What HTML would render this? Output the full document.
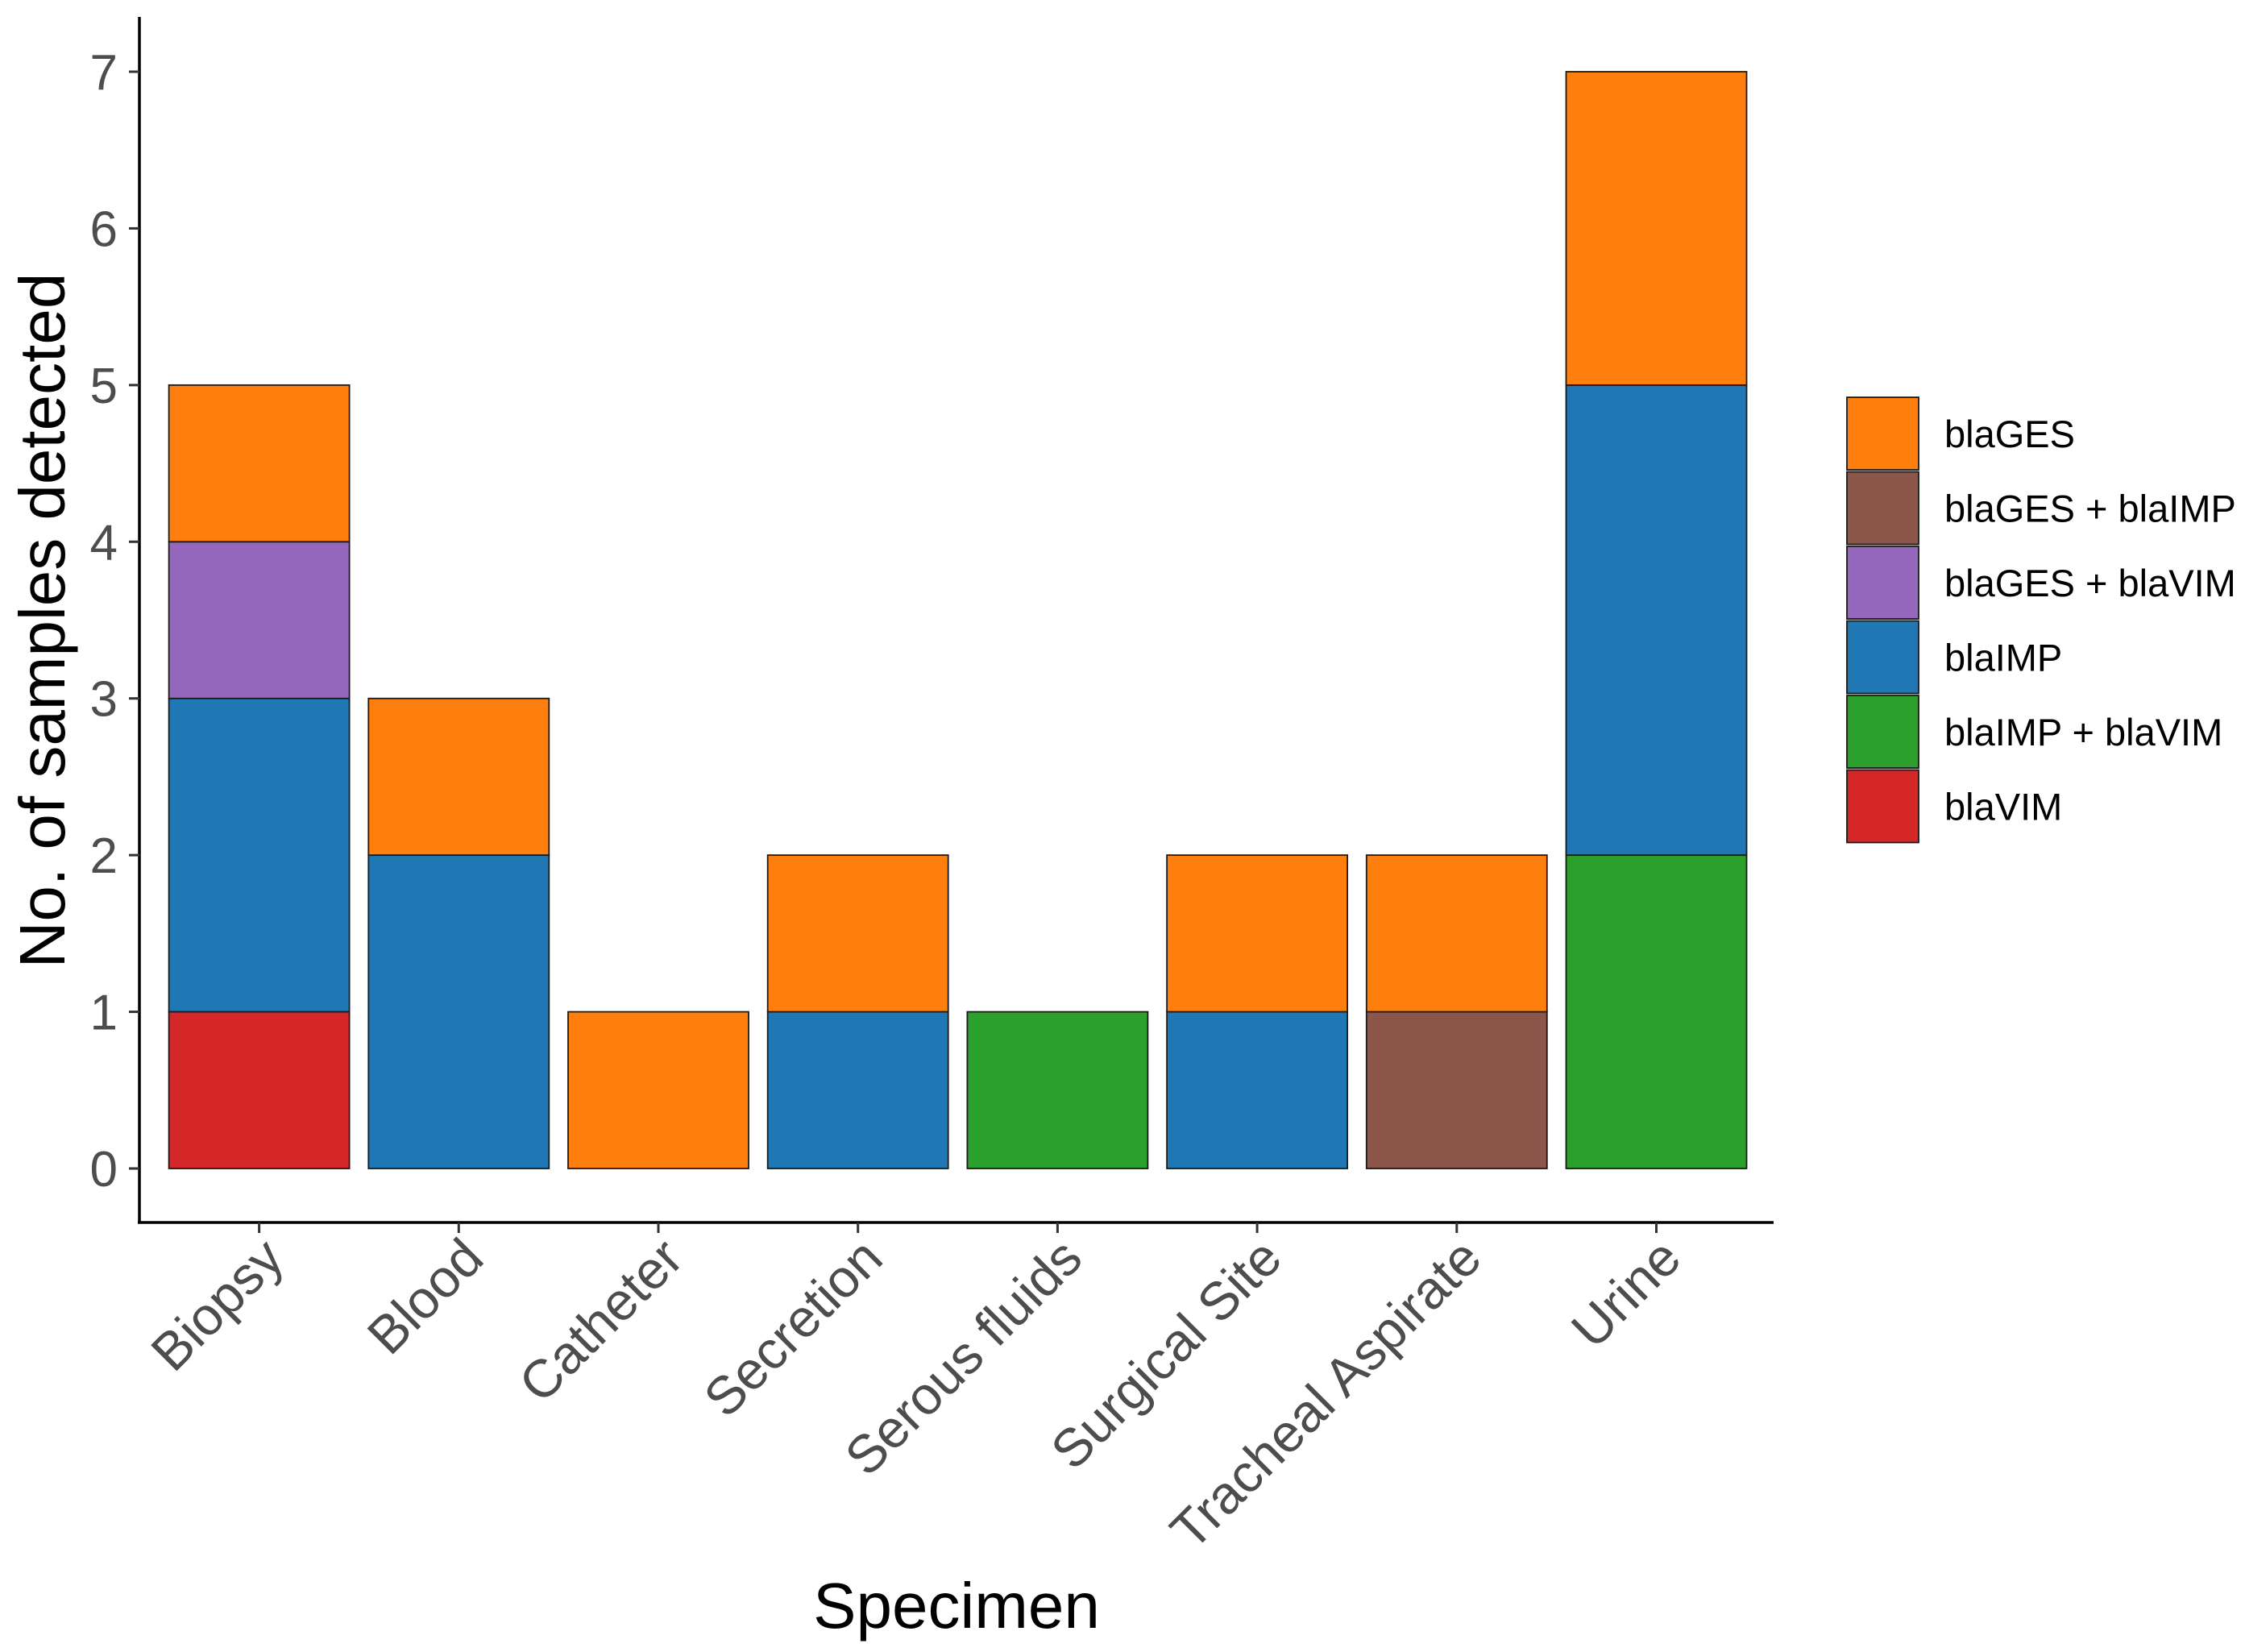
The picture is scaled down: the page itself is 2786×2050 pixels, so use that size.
<!DOCTYPE html>
<html><head><meta charset="utf-8"><style>
html,body{margin:0;padding:0;background:#fff;}
svg{display:block;font-family:"Liberation Sans",Arial,sans-serif;}
</style></head><body>
<svg id="chart" width="2786" height="2050" viewBox="0 0 2786 2050" xmlns="http://www.w3.org/2000/svg">
<g id="bars"></g>
<g id="axes"></g>
<g id="legend"></g>
</svg>
<script>
const categories = ["Biopsy","Blood","Catheter","Secretion","Serous fluids","Surgical Site","Tracheal Aspirate","Urine"];
const seriesNames = ["blaGES","blaGES + blaIMP","blaGES + blaVIM","blaIMP","blaIMP + blaVIM","blaVIM"];
const seriesColors = ["#ff7f0e","#8c564b","#9467bd","#1f77b4","#2ca02c","#d62728"];
const blaGES       = [1,1,1,1,0,1,1,2];
const blaGES_IMP   = [0,0,0,0,0,0,1,0];
const blaGES_VIM   = [1,0,0,0,0,0,0,0];
const blaIMP       = [2,2,0,1,0,1,0,3];
const blaIMP_VIM   = [0,0,0,0,1,0,0,2];
const blaVIM       = [1,0,0,0,0,0,0,0];
const yTicks = [0,1,2,3,4,5,6,7];

const NS="http://www.w3.org/2000/svg";
function mk(tag,attrs,parent){const e=document.createElementNS(NS,tag);for(const k in attrs)e.setAttribute(k,attrs[k]);parent.appendChild(e);return e;}
const y0=1450, yUnit=(1450-89)/7;
const yScale=v=>y0-v*yUnit;
const step=247.7, x0=321.6, bw=224;
const xScale=i=>x0+i*step;

const barsG=document.getElementById('bars');
const stacks=[[blaVIM,5],[blaIMP_VIM,4],[blaIMP,3],[blaGES_VIM,2],[blaGES_IMP,1],[blaGES,0]];
categories.forEach((c,i)=>{
  let cum=0;
  stacks.forEach(([arr,si])=>{
    const v=arr[i]; if(!v) return;
    const r=mk('rect',{x:xScale(i)-bw/2,y:yScale(cum+v),width:bw,height:yScale(cum)-yScale(cum+v),fill:seriesColors[si],stroke:"#1a1a1a","stroke-width":1.8},barsG);
    
    
    cum+=v;
  });
});

const ax=document.getElementById('axes');
let l=mk('line',{x1:173,y1:21,x2:173,y2:1517,stroke:"#000","stroke-width":3.5},ax);


l=mk('line',{x1:171,y1:1517,x2:2201,y2:1517,stroke:"#000","stroke-width":3.5},ax);


yTicks.forEach(t=>{
  const y=yScale(t);
  const tk=mk('line',{x1:160,y1:y,x2:173,y2:y,stroke:"#333","stroke-width":3},ax);
  
  
  const tx=mk('text',{x:146,y:y+22,"text-anchor":"end","font-size":62,fill:"#4d4d4d"},ax);
  tx.textContent=t;
  
  
});
categories.forEach((c,i)=>{
  const x=xScale(i);
  const tk=mk('line',{x1:x,y1:1517,x2:x,y2:1530,stroke:"#333","stroke-width":3},ax);
  
  
  const tx=mk('text',{x:x+34,y:1565,"text-anchor":"end","font-size":66,fill:"#4d4d4d",transform:`rotate(-45 ${x+34} 1565)`},ax);
  tx.textContent=c;
  
  
});
let t=mk('text',{x:1187,y:2020,"text-anchor":"middle","font-size":80,fill:"#000"},ax);
t.textContent="Specimen";


t=mk('text',{x:80,y:770,"text-anchor":"middle","font-size":80,fill:"#000",transform:"rotate(-90 80 770)"},ax);
t.textContent="No. of samples detected";



const lg=document.getElementById('legend');
seriesNames.forEach((s,i)=>{
  const y=493+i*92.5;
  const r=mk('rect',{x:2292,y:y,width:89,height:90,fill:seriesColors[i],stroke:"#1a1a1a","stroke-width":1.8},lg);
  
  
  const tx=mk('text',{x:2413,y:y+62,"font-size":47,fill:"#000"},lg);
  tx.textContent=s;
  
  
});
</script>
</body></html>
